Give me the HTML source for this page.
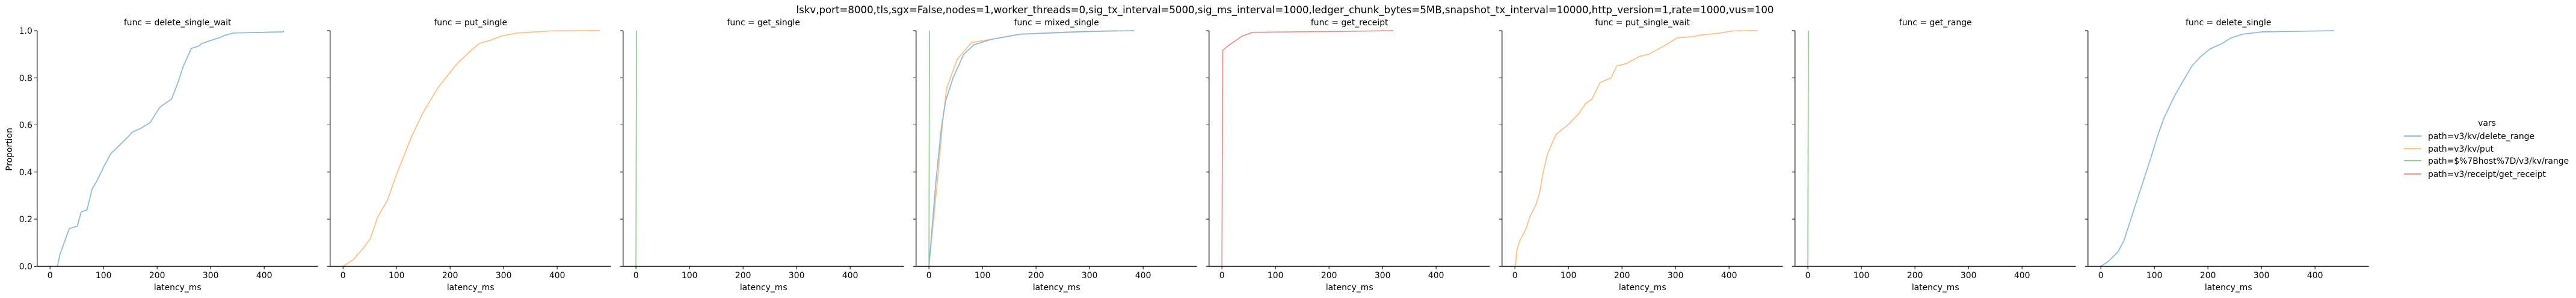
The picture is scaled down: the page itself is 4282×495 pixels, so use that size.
<!DOCTYPE html>
<html><head><meta charset="utf-8">
<style>
html,body{margin:0;padding:0;background:#fff;}
svg{display:block;font-family:"DejaVu Sans","Liberation Sans",sans-serif;}
</style></head>
<body>
<svg id="chart" width="4282" height="495" viewBox="0 0 4282 495" xmlns="http://www.w3.org/2000/svg">
<text x="2136" y="22" font-size="16.5" text-anchor="middle" textLength="1625" lengthAdjust="spacingAndGlyphs">lskv,port=8000,tls,sgx=False,nodes=1,worker_threads=0,sig_tx_interval=5000,sig_ms_interval=1000,ledger_chunk_bytes=5MB,snapshot_tx_interval=10000,http_version=1,rate=1000,vus=100</text>
<text transform="translate(20,248) rotate(-90)" font-size="13.9" text-anchor="middle">Proportion</text>
<g id="panels"></g>
<g id="legend"></g>
</svg>
<script>
const panelTitles = ["delete_single_wait","put_single","get_single","mixed_single","get_receipt","put_single_wait","get_range","delete_single"];
const xTicks = [0,100,200,300,400];
const yTicks = [0,0.2,0.4,0.6,0.8,1.0];
const yTickLabels = ["0.0","0.2","0.4","0.6","0.8","1.0"];
const seriesNames = ["path=v3/kv/delete_range","path=v3/kv/put","path=$%7Bhost%7D/v3/kv/range","path=v3/receipt/get_receipt"];
const seriesColors = ["#8fbbd9","#ffbf86","#95cf95","#ea9393"];

// panel 1: delete_single_wait (blue)
const p1x = [13.7,18.9,36,51,58,69,79,87,102,114,119,146,154,169,187,198,205,227,239,249,259,264,278,283,302,316,326,342,436,436];
const p1y = [0,0.053,0.16,0.17,0.23,0.24,0.33,0.36,0.43,0.48,0.49,0.55,0.57,0.585,0.61,0.65,0.675,0.71,0.78,0.85,0.9,0.925,0.935,0.945,0.96,0.97,0.98,0.99,0.995,1.0];
// panel 2: put_single (orange)
const p2x = [0,19,37,51,65,83,100,114,128,149,178,213,241,255,276,297,325,389,480];
const p2y = [0,0.027,0.074,0.117,0.21,0.28,0.39,0.47,0.55,0.65,0.76,0.86,0.92,0.946,0.96,0.978,0.99,0.999,1.0];
// panel 3: get_single (green)
const p3x = [0,0.5,1];
const p3y = [0,0.5,1.0];
// panel 4: mixed_single
const p4bx = [0,13,23,31,45,65,84,116,171,289,383];
const p4by = [0,0.36,0.585,0.70,0.80,0.90,0.94,0.963,0.985,0.997,1.0];
const p4ox = [0,17,25,33,53,80,116,171,352];
const p4oy = [0,0.39,0.60,0.755,0.88,0.95,0.963,0.986,1.0];
const p4gx = [0,0.5,1];
const p4gy = [0,0.5,1.0];
// panel 5: get_receipt (red)
const p5x = [0,1.6,13,37,57,214,320];
const p5y = [0,0.917,0.938,0.976,0.993,0.997,1.0];
// panel 6: put_single_wait (orange)
const p6x = [1,3.5,9,21,28,39,46,53,60,70,77,99,120,132,144,159,180,190,208,232,250,282,303,335,342,384,405,454];
const p6y = [0,0.066,0.108,0.16,0.21,0.26,0.31,0.40,0.47,0.525,0.56,0.60,0.65,0.69,0.71,0.78,0.80,0.85,0.86,0.89,0.90,0.94,0.97,0.975,0.98,0.99,0.999,1.0];
// panel 7: get_range (green)
const p7x = [0,0.5,1];
const p7y = [0,0.5,1.0];
// panel 8: delete_single (blue)
const p8x = [0,13,32,43,54,66,77,92,107,118,137,152,170,185,204,227,242,264,301,436];
const p8y = [0,0.019,0.061,0.108,0.185,0.27,0.346,0.45,0.56,0.63,0.72,0.78,0.85,0.887,0.923,0.946,0.968,0.985,0.995,1.0];

const panelSeries = [
  [{x:p1x,y:p1y,c:0}],
  [{x:p2x,y:p2y,c:1}],
  [{x:p3x,y:p3y,c:2}],
  [{x:p4gx,y:p4gy,c:2},{x:p4ox,y:p4oy,c:1},{x:p4bx,y:p4by,c:0}],
  [{x:p5x,y:p5y,c:3}],
  [{x:p6x,y:p6y,c:1}],
  [{x:p7x,y:p7y,c:2}],
  [{x:p8x,y:p8y,c:0}]
];

const NS = "http://www.w3.org/2000/svg";
const PANEL_LEFT = 61.8, PITCH = 487, PANEL_W = 466.8, TOP = 51, BOTTOM = 442.3;
const XMIN = -24, XMAX = 500.5;
function el(tag, attrs, parent){ const e=document.createElementNS(NS,tag); for(const k in attrs) e.setAttribute(k,attrs[k]); parent.appendChild(e); return e; }
function xScale(i,v){ const l=PANEL_LEFT+i*PITCH; return l+(v-XMIN)/(XMAX-XMIN)*PANEL_W; }
function yScale(v){ return BOTTOM-v*(BOTTOM-TOP); }

const panels = document.getElementById("panels");
panelTitles.forEach((t,i)=>{
  const g = el("g",{},panels);
  
  
  const l = PANEL_LEFT+i*PITCH, cx = l+PANEL_W/2;
  const tt = el("text",{x:cx,y:42,"font-size":"13.9","text-anchor":"middle"},g);
  tt.textContent = "func = " + t;
  
  
  panelSeries[i].forEach(s=>{
    let pts=[];
    for(let k=0;k<s.x.length;k++){
      pts.push(xScale(i,s.x[k]).toFixed(2)+","+yScale(s.y[k]).toFixed(2));
    }
    const pl = el("polyline",{points:pts.join(" "),fill:"none",stroke:seriesColors[s.c],"stroke-width":"1.8","stroke-linejoin":"round"},g);
    
    
  });
  const ax = el("line",{x1:l,y1:TOP,x2:l,y2:BOTTOM,stroke:"#000","stroke-width":"1.2"},g);
  
  
  const bx = el("line",{x1:l,y1:BOTTOM,x2:l+PANEL_W,y2:BOTTOM,stroke:"#000","stroke-width":"1.2"},g);
  
  
  yTicks.forEach((v,k)=>{
    const y=yScale(v);
    el("line",{x1:l-5,y1:y,x2:l,y2:y,stroke:"#000","stroke-width":"1"},g);
    if(i===0){
      const tl = el("text",{x:l-8,y:y+5,"font-size":"13.9","text-anchor":"end"},g);
      tl.textContent = yTickLabels[k];
      
      
    }
  });
  xTicks.forEach(v=>{
    const x=xScale(i,v);
    el("line",{x1:x,y1:BOTTOM,x2:x,y2:BOTTOM+5,stroke:"#000","stroke-width":"1"},g);
    const tl = el("text",{x:x,y:462,"font-size":"13.9","text-anchor":"middle"},g);
    tl.textContent = String(v);
    
    
  });
  const xl = el("text",{x:cx,y:482,"font-size":"13.9","text-anchor":"middle"},g);
  xl.textContent = "latency_ms";
  
  
});

const legend = document.getElementById("legend");
const lt = el("text",{x:4134,y:209,"font-size":"13.9","text-anchor":"middle"},legend);
lt.textContent = "vars";


const rowY = [226,247,267,289];
seriesNames.forEach((n,k)=>{
  const g = el("g",{},legend);
  
  
  el("line",{x1:3996,y1:rowY[k],x2:4025,y2:rowY[k],stroke:seriesColors[k],"stroke-width":"2"},g);
  const t = el("text",{x:4036,y:rowY[k]+5,"font-size":"13.9"},g);
  t.textContent = n;
});
</script>
</body></html>
